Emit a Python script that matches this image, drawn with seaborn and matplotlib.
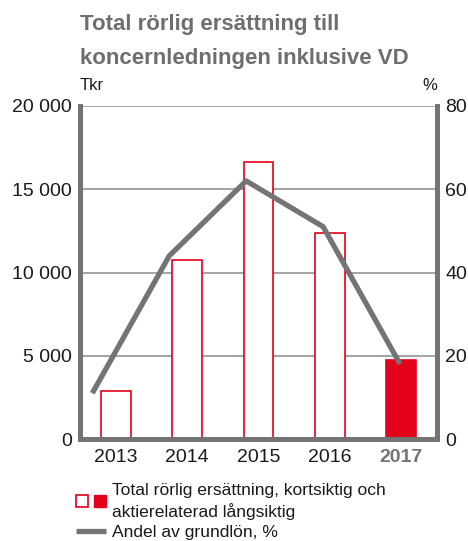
"""
Total rörlig ersättning till koncernledningen inklusive VD, 2013-2017.
"""

import matplotlib

matplotlib.use("Agg")
import matplotlib.pyplot as plt
import seaborn as sns
import pandas as pd
from matplotlib.patches import Patch
from matplotlib.lines import Line2D
from matplotlib.legend_handler import HandlerTuple

# data
years = ["2013", "2014", "2015", "2016", "2017"]
compensation_tkr = [2880, 10750, 16650, 12370, 4730]
share_of_salary_pct = [11, 44, 62, 51, 18]
left_ticks = [0, 5000, 10000, 15000, 20000]
left_tick_labels = ["0", "5 000", "10 000", "15 000", "20 000"]
right_ticks = [0, 20, 40, 60, 80]

RED = "#e2001a"
GREY = "#747474"
GRID = "#8a8a8a"
TEXT = "#1a1a1a"

sns.set_style("white")
plt.rcParams["font.family"] = ["Liberation Sans", "DejaVu Sans"]

df = pd.DataFrame({"year": years, "tkr": compensation_tkr})
palette = {y: "white" for y in years}
palette[years[-1]] = RED

fig = plt.figure(figsize=(4.68, 5.41), dpi=100)
ax = fig.add_axes([80 / 468, 1 - 439 / 541, 357 / 468, 333 / 541])

for val in left_ticks[1:]:
    ax.axhline(val, color=GRID, linewidth=1.1, zorder=0)

sns.barplot(
    data=df,
    x="year",
    y="tkr",
    hue="year",
    palette=palette,
    saturation=1,
    edgecolor=RED,
    linewidth=1.2,
    width=0.42,
    legend=False,
    ax=ax,
    zorder=2,
)
ax.set_xlim(-0.5, 4.5)
ax.set_ylim(0, 20000)
ax.set_yticks(left_ticks)
ax.set_yticklabels(left_tick_labels)
ax.set_xlabel("")
ax.set_ylabel("")
ax.tick_params(axis="both", length=0, labelsize=14, colors=TEXT)
ax.tick_params(axis="y", pad=6)
ax.tick_params(axis="x", pad=7)
for lbl in ax.get_xticklabels():
    if lbl.get_text() == years[-1]:
        lbl.set_color(GREY)
        lbl.set_fontweight("bold")

for side in ["left", "bottom", "right"]:
    ax.spines[side].set_color(GREY)
    ax.spines[side].set_linewidth(3.6)
ax.spines["top"].set_visible(False)

# line for share of base salary, on its own overlay axes
ax2 = fig.add_axes(ax.get_position(), frameon=False)
line_df = pd.DataFrame({"pos": range(len(years)), "pct": share_of_salary_pct})
sns.lineplot(
    data=line_df,
    x="pos",
    y="pct",
    color=GREY,
    linewidth=3.8,
    ax=ax2,
    solid_capstyle="butt",
)
ax2.set_xlim(-0.16, 4.48)
ax2.set_ylim(0, 80)
ax2.set_xticks([])
ax2.set_xlabel("")
ax2.set_ylabel("")
ax2.yaxis.tick_right()
ax2.set_yticks(right_ticks)
ax2.tick_params(axis="y", length=0, labelsize=14, colors=TEXT, pad=6)

fig.text(80 / 468, 1 - 85 / 541, "Tkr", fontsize=12, color=TEXT, va="center")
fig.text(437 / 468, 1 - 85 / 541, "%", fontsize=12, color=TEXT, va="center", ha="right")

fig.text(
    80 / 468,
    1 - 14 / 541,
    "Total rörlig ersättning till\nkoncernledningen inklusive VD",
    fontsize=16,
    fontweight="bold",
    color="#6e6e6e",
    va="top",
    linespacing=1.8,
)

open_patch = Patch(facecolor="white", edgecolor=RED, linewidth=1.2)
full_patch = Patch(facecolor=RED, edgecolor=RED)
line_handle = Line2D([], [], color=GREY, linewidth=3.8, solid_capstyle="butt")
leg = fig.legend(
    handles=[(open_patch, full_patch), line_handle],
    labels=["Total rörlig ersättning, kortsiktig och\naktierelaterad långsiktig", "Andel av grundlön, %"],
    handler_map={tuple: HandlerTuple(ndivide=None, pad=0.35)},
    loc="upper left",
    bbox_to_anchor=(67 / 468, 1 - 474 / 541),
    frameon=False,
    fontsize=12.6,
    labelcolor=TEXT,
    handlelength=1.75,
    handleheight=0.6,
    handletextpad=0.3,
    labelspacing=0.3,
    borderpad=0,
)
for txt in leg.get_texts():
    txt.set_linespacing(1.35)

fig.savefig("out.png", dpi=100)
